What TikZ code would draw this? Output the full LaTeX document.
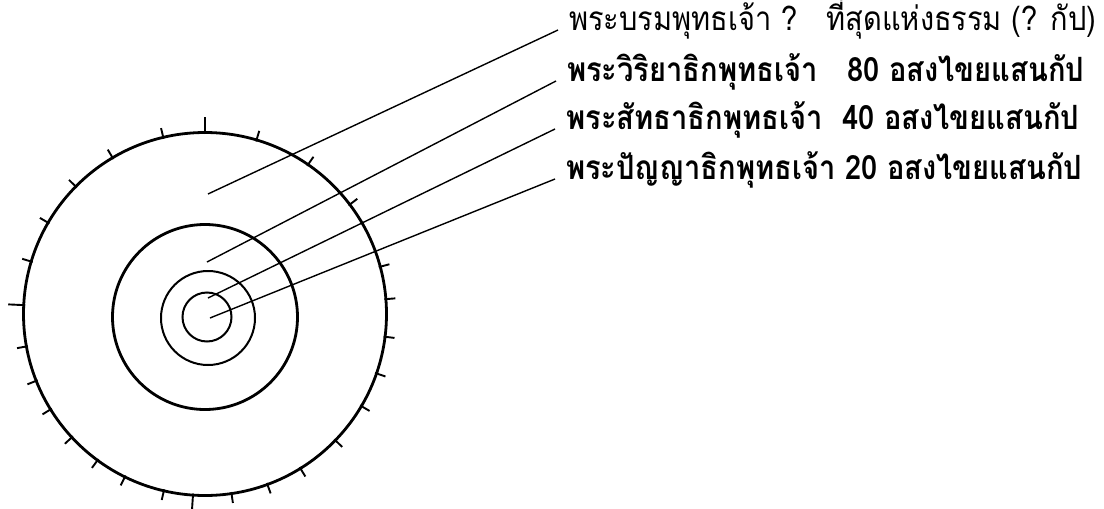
\documentclass[tikz,border=0pt]{standalone}
\usepackage{fontspec}
\usepackage{graphicx}
\newfontfamily\thaifont[Script=Thai]{Loma}
\usetikzlibrary{calc}
\newcommand{\labtext}[2]{\scalebox{1}[1.15]{\resizebox{#1}{!}{#2}}}
\begin{document}
\begin{tikzpicture}[x=1pt,y=-1pt,
  ring/.style={line width=2pt},
  bigring/.style={line width=2.8pt},
  tickmark/.style={line width=1.9pt},
  leader/.style={line width=1.4pt},
  label/.style={anchor=base west, inner xsep=11pt, inner ysep=0pt},
  ]
\useasboundingbox (0,0) rectangle (1104,509);
% centres
\coordinate (c0) at (205,314);
\coordinate (c1) at (205,317);
\coordinate (c2) at (208,318);
\coordinate (c3) at (207,317);
% rings
\draw[bigring] (c0) circle[radius=181.5pt];
\draw[bigring] (c1) circle[radius=92.5pt];
\draw[ring] (c2) circle[radius=47pt];
\draw[ring] (c3) circle[radius=24.5pt];
% ticks on the outer ring
\foreach \a in {103.3,120.6,135.4,149.8,163.2,190.3,201.6,211.7,222.8,233.7,243.8,256.9,278.4,290.1,301.7,315.9,329.5,340.9,352.8,4.7,15.1,37.1,55.4,73.5}
  \draw[tickmark] ($(c0)+(\a:180pt)$) -- ($(c0)+(\a:191pt)$);
\foreach \a in {90,177.2,266.2}
  \draw[tickmark] ($(c0)+(\a:180pt)$) -- ($(c0)+(\a:197pt)$);
% leader start points
\coordinate (p1) at (208,194);
\coordinate (p2) at (207,262);
\coordinate (p3) at (208,298);
\coordinate (p4) at (210,318);
% labels
\node[label] (t1) at (558,30) {\labtext{527pt}{\thaifont พระบรมพุทธเจ้า ?\ \ \ ที่สุดแห่งธรรม (? กัป)}};
\node[label] (t2) at (556,81) {\labtext{517pt}{\thaifont\bfseries พระวิริยาธิกพุทธเจ้า\ \ \ 80 อสงไขยแสนกัป}};
\node[label] (t3) at (555,129) {\labtext{513pt}{\thaifont\bfseries พระสัทธาธิกพุทธเจ้า\ \ 40 อสงไขยแสนกัป}};
\node[label] (t4) at (555,179) {\labtext{516pt}{\thaifont\bfseries พระปัญญาธิกพุทธเจ้า 20 อสงไขยแสนกัป}};
% leaders
\draw[leader] (p1) -- (t1.base west);
\draw[leader] (p2) -- (t2.base west);
\draw[leader] (p3) -- (t3.base west);
\draw[leader] (p4) -- (t4.base west);
\end{tikzpicture}
\end{document}
